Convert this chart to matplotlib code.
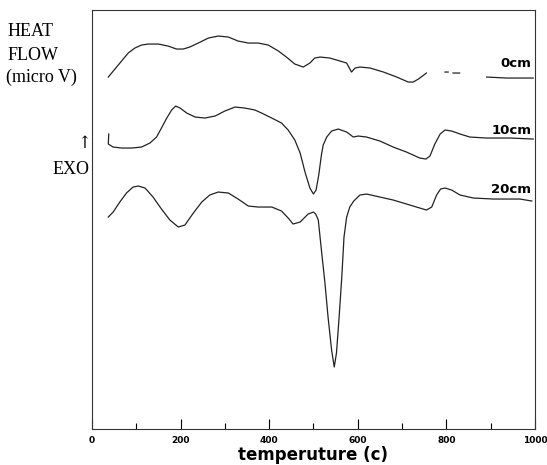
import numpy as np
import matplotlib.pyplot as plt
from matplotlib.ticker import MultipleLocator

# Readings taken off the scanned DTA plot (arbitrary heat-flow units)
t_0cm = [37, 52, 67, 82, 97, 112, 127, 150, 172, 191, 206, 221, 240, 263,
         285, 308, 330, 353, 375, 398, 421, 439, 458, 477, 492, 503, 515,
         537, 560, 575, 586, 594, 605, 628, 658, 688, 714, 725, 737, 755,
         np.nan, 797, 804, np.nan, 815, 830, np.nan, 891, 936, 996]
hf_0cm = [352, 360, 368, 376, 381, 384, 385, 385, 383, 380, 380, 382, 386, 391,
          393, 392, 388, 386, 386, 384, 378, 372, 365, 362, 366, 371, 372,
          371, 368, 366, 357, 361, 362, 361, 357, 352, 347, 347, 350, 356,
          np.nan, 357, 357, np.nan, 356, 356, np.nan, 352, 351, 351]

t_10cm = [38, 37, 48, 67, 90, 112, 131, 146, 157, 169, 180, 189, 199, 214,
          233, 255, 278, 300, 323, 345, 368, 383, 406, 428, 443, 458, 470,
          481, 492, 500, 506, 512, 518, 522, 530, 541, 556, 575, 590, 601,
          620, 650, 680, 710, 740, 754, 763, 774, 786, 797, 812, 831, 853,
          891, 944, 996]
hf_10cm = [295, 285, 282, 281, 281, 282, 286, 292, 301, 311, 319, 323, 321, 316,
           312, 311, 313, 318, 322, 321, 319, 316, 311, 306, 299, 289, 276,
           257, 241, 235, 239, 254, 274, 284, 292, 298, 300, 297, 292, 293,
           292, 288, 282, 277, 271, 270, 273, 285, 295, 299, 298, 295, 292,
           291, 291, 290]

t_20cm = [37, 48, 63, 78, 93, 105, 120, 138, 157, 176, 195, 210, 229, 248,
          266, 285, 308, 330, 353, 375, 406, 428, 443, 454, 470, 488, 500,
          505, 511, 518, 526, 533, 541, 547, 552, 558, 564, 569, 575, 582,
          591, 605, 620, 650, 680, 710, 740, 755, 767, 778, 787, 797, 812,
          831, 861, 906, 966, 993]
hf_20cm = [212, 217, 227, 236, 242, 243, 241, 232, 220, 209, 202, 204, 216, 227,
           234, 237, 236, 230, 223, 222, 222, 218, 211, 205, 207, 215, 217,
           215, 209, 179, 146, 112, 79, 62, 76, 112, 152, 192, 212, 222,
           228, 234, 235, 232, 229, 225, 221, 219, 222, 234, 240, 241, 239,
           234, 231, 230, 230, 228]

labels = ["0cm", "10cm", "20cm"]
label_y = [366, 299, 240]

fig = plt.figure(figsize=(5.47, 4.65), dpi=100)
ax = fig.add_axes([0.168, 0.0774, 0.81, 0.901])

for t, hf in [(t_0cm, hf_0cm), (t_10cm, hf_10cm), (t_20cm, hf_20cm)]:
    ax.plot(t, hf, color="#222222", lw=0.9)

for lab, y in zip(labels, label_y):
    ax.text(992, y, lab, ha="right", va="center", fontsize=9.5,
            fontweight="black", family="DejaVu Sans")

ax.set_xlim(0, 1000)
ax.set_ylim(0, 419)
ax.xaxis.set_major_locator(MultipleLocator(200))
ax.xaxis.set_minor_locator(MultipleLocator(100))
ax.tick_params(axis="x", which="major", direction="in", length=7, width=0.8,
               labelsize=6.5, pad=5)
ax.tick_params(axis="x", which="minor", direction="in", length=4, width=0.8)
for lbl in ax.get_xticklabels():
    lbl.set_fontweight("black")
ax.set_yticks([])
for s in ax.spines.values():
    s.set_linewidth(0.8)
    s.set_color("#333333")

ax.set_xlabel("temperuture (c)", fontsize=12, fontweight="black", labelpad=1)

serif = ["Liberation Serif", "DejaVu Serif"]
fig.text(8 / 547, 1 - 32 / 465, "HEAT", family=serif, fontsize=13, va="center")
fig.text(8 / 547, 1 - 55 / 465, "FLOW", family=serif, fontsize=13, va="center")
fig.text(6 / 547, 1 - 77 / 465, "(micro V)", family=serif, fontsize=13, va="center")
fig.text(84 / 547, 1 - 143 / 465, "\u2191", family=["DejaVu Serif"], fontsize=12,
         ha="center", va="center")
fig.text(53 / 547, 1 - 170 / 465, "EXO", family=serif, fontsize=13, va="center")

fig.savefig("out.png", dpi=100)
